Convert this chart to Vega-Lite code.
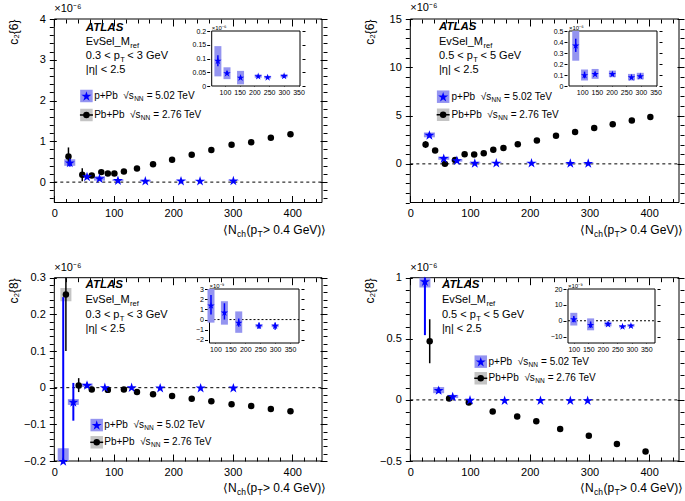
{
"$schema":"https://vega.github.io/schema/vega-lite/v6.json",
"width":685,"height":501,"autosize":"none","padding":0,"background":"white",
"data":{"values":[{}]},
"config":{
 "font":"Liberation Sans",
 "view":{"stroke":null},
 "axis":{"grid":false,"domain":false,"labelFont":"Liberation Sans","labelFontSize":11,"labelColor":"black","tickColor":"black","tickWidth":1,"titleFont":"Liberation Sans","titleFontSize":12,"titleFontWeight":"normal","titleColor":"black","labelFlush":false,"labelOverlap":false,"minExtent":0},
 "text":{"font":"Liberation Sans","fontSize":11,"align":"left","baseline":"middle","color":"black"}
},
"datasets":{
 "m1p":[{"n":26,"c":0.48,"lo":0.38,"hi":0.59,"slo":0.40,"shi":0.56},{"n":55,"c":0.14,"lo":0.12,"hi":0.16,"slo":0.10,"shi":0.18},{"n":76,"c":0.092,"lo":0.072,"hi":0.112,"slo":0.035,"shi":0.145},{"n":107,"c":0.047,"lo":0.04,"hi":0.055,"slo":0.025,"shi":0.068},{"n":153,"c":0.031,"lo":0.025,"hi":0.037,"slo":0.006,"shi":0.055},{"n":213,"c":0.036,"lo":0.032,"hi":0.04,"slo":0.03,"shi":0.042},{"n":245,"c":0.032,"lo":0.028,"hi":0.036,"slo":0.027,"shi":0.037},{"n":301,"c":0.037,"lo":0.033,"hi":0.041,"slo":0.031,"shi":0.043}],
 "m1b":[{"n":23.8,"c":0.63,"lo":0.41,"hi":0.85},{"n":47,"c":0.18,"lo":0.02,"hi":0.34},{"n":63,"c":0.16},{"n":79,"c":0.245},{"n":90,"c":0.21},{"n":101,"c":0.21},{"n":117,"c":0.26},{"n":139,"c":0.335},{"n":166,"c":0.44},{"n":198,"c":0.55},{"n":231,"c":0.67},{"n":264,"c":0.79},{"n":298,"c":0.915},{"n":331,"c":0.98},{"n":364,"c":1.09},{"n":397,"c":1.175}],
 "m2p":[{"n":32,"c":3.0,"lo":2.8,"hi":3.2,"slo":2.75,"shi":3.25},{"n":56,"c":0.59,"lo":0.5,"hi":0.68,"slo":0.42,"shi":0.76},{"n":78,"c":0.37,"lo":0.31,"hi":0.43,"slo":0.23,"shi":0.5},{"n":108,"c":0.1,"lo":0.07,"hi":0.13,"slo":0.05,"shi":0.15},{"n":144,"c":0.11,"lo":0.09,"hi":0.13,"slo":0.065,"shi":0.155},{"n":203,"c":0.11,"lo":0.1,"hi":0.12,"slo":0.08,"shi":0.14},{"n":268,"c":0.08,"lo":0.07,"hi":0.09,"slo":0.05,"shi":0.11},{"n":298,"c":0.09,"lo":0.08,"hi":0.1,"slo":0.06,"shi":0.12}],
 "m2b":[{"n":25.6,"c":2.0,"lo":1.65,"hi":2.35},{"n":41.6,"c":1.38,"lo":1.2,"hi":1.56},{"n":58,"c":0.0,"lo":-0.1,"hi":0.1},{"n":75,"c":0.41},{"n":91,"c":1.0},{"n":107,"c":0.97},{"n":123,"c":1.1},{"n":139,"c":1.45},{"n":156,"c":1.65},{"n":180,"c":2.03},{"n":212,"c":2.41},{"n":244,"c":2.9},{"n":276,"c":3.31},{"n":308,"c":3.72},{"n":339,"c":4.1},{"n":371,"c":4.48},{"n":402,"c":4.86}],
 "m3p":[{"n":15,"c":-0.2,"lo":-0.2,"hi":0.247,"slo":-0.2,"shi":-0.165},{"n":32,"c":-0.039,"lo":-0.09,"hi":0.013,"slo":-0.047,"shi":-0.031},{"n":55,"c":0.007,"lo":0.0,"hi":0.014,"slo":0.002,"shi":0.012},{"n":85,"c":0.001},{"n":130,"c":0.001},{"n":178,"c":0.0},{"n":246,"c":0.0},{"n":301,"c":0.0}],
 "m3b":[{"n":19.5,"c":0.254,"lo":0.1,"hi":0.3,"slo":0.236,"shi":0.272},{"n":41,"c":0.006,"lo":-0.012,"hi":0.026},{"n":63,"c":-0.005},{"n":90,"c":-0.006},{"n":117,"c":-0.005},{"n":139,"c":-0.012},{"n":166,"c":-0.018},{"n":198,"c":-0.023},{"n":231,"c":-0.03},{"n":264,"c":-0.037},{"n":298,"c":-0.045},{"n":331,"c":-0.05},{"n":364,"c":-0.058},{"n":397,"c":-0.064}],
 "m4p":[{"n":24.5,"c":0.97,"lo":0.53,"hi":1.0,"slo":0.92,"shi":1.0},{"n":47.5,"c":0.08,"lo":0.06,"hi":0.1,"slo":0.055,"shi":0.105},{"n":71,"c":0.028,"lo":0.018,"hi":0.038,"slo":0.015,"shi":0.041},{"n":100,"c":0.001},{"n":158,"c":-0.0025},{"n":218,"c":-0.002},{"n":268,"c":-0.0035},{"n":297,"c":-0.003}],
 "m4b":[{"n":32.5,"c":0.48,"lo":0.3,"hi":0.66},{"n":65,"c":0.011,"lo":-0.01,"hi":0.03},{"n":98,"c":-0.022},{"n":138,"c":-0.094},{"n":179,"c":-0.135},{"n":211,"c":-0.174},{"n":251,"c":-0.238},{"n":299,"c":-0.293},{"n":346,"c":-0.36},{"n":394,"c":-0.423}],
 "i3":[{"n":85,"c":1.4,"lo":0.5,"hi":2.4,"slo":-0.3,"shi":3.0},{"n":130,"c":0.7,"lo":0.0,"hi":1.6,"slo":-0.5,"shi":1.8},{"n":178,"c":-0.3,"lo":-0.7,"hi":0.1,"slo":-1.3,"shi":0.8},{"n":246,"c":-0.6,"lo":-0.9,"hi":-0.3,"slo":-0.75,"shi":-0.45},{"n":300,"c":-0.6,"lo":-1.0,"hi":-0.3,"slo":-0.75,"shi":-0.45}],
 "i4":[{"n":100,"c":1,"lo":-1,"hi":3,"slo":-3,"shi":5},{"n":158,"c":-2.5,"lo":-4.5,"hi":-0.5,"slo":-6,"shi":1.5},{"n":218,"c":-2,"lo":-3,"hi":-1,"slo":-3.5,"shi":-0.5},{"n":268,"c":-3.5,"lo":-4.3,"hi":-2.7,"slo":-4.3,"shi":-2.7},{"n":297,"c":-3,"lo":-3.8,"hi":-2.2,"slo":-3.8,"shi":-2.2}]
},
"resolve":{"scale":{"x":"independent","y":"independent"},"axis":{"x":"independent","y":"independent"}},
"layer":[
{"resolve":{"axis":{"x":"independent","y":"independent"}},"layer":[
 {"mark":{"type":"rect","fillOpacity":0,"stroke":"black","strokeWidth":1},"encoding":{"x":{"datum":0,"type":"quantitative","scale":{"domain":[0,450],"range":[49.3,327],"nice":false,"zero":false},"axis":{"orient":"bottom","offset":-298.5,"values":[0,100,200,300,400],"format":"d","tickSize":-7,"labelPadding":12,"title":null}},"x2":{"datum":450},"y":{"datum":-0.5,"type":"quantitative","scale":{"domain":[-0.5,4],"range":[202.5,19],"nice":false,"zero":false},"axis":{"orient":"left","offset":-49.3,"values":[0,1,2,3,4],"format":"d","tickSize":-7,"labelPadding":11,"title":"c₂{6}","titleAnchor":"end","titlePadding":19}},"y2":{"datum":4}}},
 {"mark":{"type":"rule","color":"black","strokeDash":[3,3],"strokeWidth":1},"encoding":{"x":{"datum":0,"type":"quantitative","axis":{"orient":"top","offset":-19,"values":[0,100,200,300,400],"tickSize":-7,"labels":false,"title":null}},"x2":{"datum":450},"y":{"datum":0,"type":"quantitative","axis":{"orient":"right","offset":-358,"values":[0,1,2,3,4],"tickSize":-7,"labels":false,"title":null}}}},
 {"data":{"name":"m1p"},"mark":{"type":"bar","width":11,"color":"#9494f0"},"encoding":{"x":{"field":"n","type":"quantitative","axis":{"orient":"bottom","offset":-298.5,"values":[20,40,60,80,120,140,160,180,220,240,260,280,320,340,360,380,420,440],"tickSize":-4,"labels":false,"title":null}},"y":{"field":"slo","type":"quantitative","axis":{"orient":"left","offset":-49.3,"values":[-0.4,-0.2,0.2,0.4,0.6,0.8,1.2,1.4,1.6,1.8,2.2,2.4,2.6,2.8,3.2,3.4,3.6,3.8],"tickSize":-4,"labels":false,"title":null}},"y2":{"field":"shi"}}},
 {"data":{"name":"m1b"},"mark":{"type":"rule","color":"black","strokeWidth":1.5},"encoding":{"x":{"field":"n","type":"quantitative","axis":{"orient":"top","offset":-19,"values":[20,40,60,80,120,140,160,180,220,240,260,280,320,340,360,380,420,440],"tickSize":-4,"labels":false,"title":null}},"y":{"field":"lo","type":"quantitative","axis":{"orient":"right","offset":-358,"values":[-0.4,-0.2,0.2,0.4,0.6,0.8,1.2,1.4,1.6,1.8,2.2,2.4,2.6,2.8,3.2,3.4,3.6,3.8],"tickSize":-4,"labels":false,"title":null}},"y2":{"field":"hi"}}},
 {"data":{"name":"m1p"},"mark":{"type":"rule","color":"#0000ff","strokeWidth":2},"encoding":{"x":{"field":"n","type":"quantitative","axis":null},"y":{"field":"lo","type":"quantitative","axis":null},"y2":{"field":"hi"}}},
 {"data":{"name":"m1b"},"mark":{"type":"point","shape":"circle","filled":true,"color":"black","size":42,"opacity":1},"encoding":{"x":{"field":"n","type":"quantitative","axis":null},"y":{"field":"c","type":"quantitative","axis":null}}},
 {"data":{"name":"m1p"},"mark":{"type":"point","shape":"M0,-0.905L0.2245,-0.2135L0.9511,-0.2135L0.3633,0.2135L0.5878,0.9045L0,0.4775L-0.5878,0.9045L-0.3633,0.2135L-0.9511,-0.2135L-0.2245,-0.2135Z","filled":true,"color":"#0000ff","size":110,"opacity":1},"encoding":{"x":{"field":"n","type":"quantitative","axis":null},"y":{"field":"c","type":"quantitative","axis":null}}},
 {"mark":{"type":"text","text":"ATLAS","fontWeight":"bold","fontStyle":"italic","fontSize":11.5},"encoding":{"x":{"datum":53,"axis":null},"y":{"datum":3.78,"axis":null}}},
 {"mark":{"type":"text","text":"EvSel_M"},"encoding":{"x":{"datum":53,"axis":null},"y":{"datum":3.436,"axis":null}}},
 {"mark":{"type":"text","text":"ref","fontSize":7.5,"dx":44.5,"dy":4},"encoding":{"x":{"datum":53,"axis":null},"y":{"datum":3.436,"axis":null}}},
 {"mark":{"type":"text","text":"0.3 < p"},"encoding":{"x":{"datum":53,"axis":null},"y":{"datum":3.092,"axis":null}}},
 {"mark":{"type":"text","text":"T","fontSize":7.5,"dx":34.3,"dy":4},"encoding":{"x":{"datum":53,"axis":null},"y":{"datum":3.092,"axis":null}}},
 {"mark":{"type":"text","text":"\u00a0< 3 GeV","dx":41.5},"encoding":{"x":{"datum":53,"axis":null},"y":{"datum":3.092,"axis":null}}},
 {"mark":{"type":"text","text":"|η| < 2.5"},"encoding":{"x":{"datum":53,"axis":null},"y":{"datum":2.749,"axis":null}}},
 {"mark":{"type":"text","text":"×10⁻⁶"},"encoding":{"x":{"datum":0,"axis":null},"y":{"datum":4.245,"axis":null}}},
 {"mark":{"type":"text","text":"⟨N","fontSize":12,"dx":-99},"encoding":{"x":{"datum":450,"axis":null},"y":{"datum":-1.174,"axis":null}}},
 {"mark":{"type":"text","text":"ch","fontSize":8.5,"dx":-85,"dy":4},"encoding":{"x":{"datum":450,"axis":null},"y":{"datum":-1.174,"axis":null}}},
 {"mark":{"type":"text","text":"(p","fontSize":12,"dx":-75.5},"encoding":{"x":{"datum":450,"axis":null},"y":{"datum":-1.174,"axis":null}}},
 {"mark":{"type":"text","text":"T","fontSize":8.5,"dx":-64.5,"dy":4},"encoding":{"x":{"datum":450,"axis":null},"y":{"datum":-1.174,"axis":null}}},
 {"mark":{"type":"text","text":"\u00a0> 0.4 GeV)⟩","fontSize":12,"dx":-59},"encoding":{"x":{"datum":450,"axis":null},"y":{"datum":-1.174,"axis":null}}},
 {"mark":{"type":"point","shape":"square","filled":true,"color":"#9494f0","size":156,"opacity":1},"encoding":{"x":{"datum":54,"axis":null},"y":{"datum":2.112,"axis":null}}},
 {"mark":{"type":"point","shape":"M0,-0.905L0.2245,-0.2135L0.9511,-0.2135L0.3633,0.2135L0.5878,0.9045L0,0.4775L-0.5878,0.9045L-0.3633,0.2135L-0.9511,-0.2135L-0.2245,-0.2135Z","filled":true,"color":"#0000ff","size":110,"opacity":1},"encoding":{"x":{"datum":54,"axis":null},"y":{"datum":2.112,"axis":null}}},
 {"mark":{"type":"text","text":"p+Pb\u00a0 √s","fontSize":10},"encoding":{"x":{"datum":67,"axis":null},"y":{"datum":2.112,"axis":null}}},
 {"mark":{"type":"text","text":"NN","fontSize":6.5,"dx":40,"dy":3},"encoding":{"x":{"datum":67,"axis":null},"y":{"datum":2.112,"axis":null}}},
 {"mark":{"type":"text","text":"\u00a0= 5.02 TeV","fontSize":10,"dx":52.5},"encoding":{"x":{"datum":67,"axis":null},"y":{"datum":2.112,"axis":null}}},
 {"mark":{"type":"point","shape":"square","filled":true,"color":"#c4c4c4","size":156,"opacity":1},"encoding":{"x":{"datum":54,"axis":null},"y":{"datum":1.646,"axis":null}}},
 {"mark":{"type":"point","shape":"stroke","color":"black","size":169,"strokeWidth":1.5,"opacity":1},"encoding":{"x":{"datum":54,"axis":null},"y":{"datum":1.646,"axis":null}}},
 {"mark":{"type":"point","shape":"circle","filled":true,"color":"black","size":42,"opacity":1},"encoding":{"x":{"datum":54,"axis":null},"y":{"datum":1.646,"axis":null}}},
 {"mark":{"type":"text","text":"Pb+Pb\u00a0 √s","fontSize":10},"encoding":{"x":{"datum":67,"axis":null},"y":{"datum":1.646,"axis":null}}},
 {"mark":{"type":"text","text":"NN","fontSize":6.5,"dx":46.7,"dy":3},"encoding":{"x":{"datum":67,"axis":null},"y":{"datum":1.646,"axis":null}}},
 {"mark":{"type":"text","text":"\u00a0= 2.76 TeV","fontSize":10,"dx":59.2},"encoding":{"x":{"datum":67,"axis":null},"y":{"datum":1.646,"axis":null}}}
]},
{"resolve":{"axis":{"x":"independent","y":"independent"}},"layer":[
 {"mark":{"type":"rect","fillOpacity":0,"stroke":"black","strokeWidth":1},"encoding":{"x":{"datum":0,"type":"quantitative","scale":{"domain":[0,450],"range":[405.3,684],"nice":false,"zero":false},"axis":{"orient":"bottom","offset":-298.5,"values":[0,100,200,300,400],"format":"d","tickSize":-7,"labelPadding":12,"title":null}},"x2":{"datum":450},"y":{"datum":-4,"type":"quantitative","scale":{"domain":[-4,15],"range":[202.5,19],"nice":false,"zero":false},"axis":{"orient":"left","offset":-405.3,"values":[0,5,10,15],"format":"d","tickSize":-7,"labelPadding":11,"title":"c₂{6}","titleAnchor":"end","titlePadding":13}},"y2":{"datum":15}}},
 {"mark":{"type":"rule","color":"black","strokeDash":[3,3],"strokeWidth":1},"encoding":{"x":{"datum":0,"type":"quantitative","axis":{"orient":"top","offset":-19,"values":[0,100,200,300,400],"tickSize":-7,"labels":false,"title":null}},"x2":{"datum":450},"y":{"datum":0,"type":"quantitative","axis":{"orient":"right","offset":-1,"values":[0,5,10,15],"tickSize":-7,"labels":false,"title":null}}}},
 {"data":{"name":"m2p"},"mark":{"type":"bar","width":11,"color":"#9494f0"},"encoding":{"x":{"field":"n","type":"quantitative","axis":{"orient":"bottom","offset":-298.5,"values":[20,40,60,80,120,140,160,180,220,240,260,280,320,340,360,380,420,440],"tickSize":-4,"labels":false,"title":null}},"y":{"field":"slo","type":"quantitative","axis":{"orient":"left","offset":-405.3,"values":[-4,-3,-2,-1,1,2,3,4,6,7,8,9,11,12,13,14],"tickSize":-4,"labels":false,"title":null}},"y2":{"field":"shi"}}},
 {"data":{"name":"m2b"},"mark":{"type":"rule","color":"black","strokeWidth":1.5},"encoding":{"x":{"field":"n","type":"quantitative","axis":{"orient":"top","offset":-19,"values":[20,40,60,80,120,140,160,180,220,240,260,280,320,340,360,380,420,440],"tickSize":-4,"labels":false,"title":null}},"y":{"field":"lo","type":"quantitative","axis":{"orient":"right","offset":-1,"values":[-4,-3,-2,-1,1,2,3,4,6,7,8,9,11,12,13,14],"tickSize":-4,"labels":false,"title":null}},"y2":{"field":"hi"}}},
 {"data":{"name":"m2p"},"mark":{"type":"rule","color":"#0000ff","strokeWidth":2},"encoding":{"x":{"field":"n","type":"quantitative","axis":null},"y":{"field":"lo","type":"quantitative","axis":null},"y2":{"field":"hi"}}},
 {"data":{"name":"m2b"},"mark":{"type":"point","shape":"circle","filled":true,"color":"black","size":42,"opacity":1},"encoding":{"x":{"field":"n","type":"quantitative","axis":null},"y":{"field":"c","type":"quantitative","axis":null}}},
 {"data":{"name":"m2p"},"mark":{"type":"point","shape":"M0,-0.905L0.2245,-0.2135L0.9511,-0.2135L0.3633,0.2135L0.5878,0.9045L0,0.4775L-0.5878,0.9045L-0.3633,0.2135L-0.9511,-0.2135L-0.2245,-0.2135Z","filled":true,"color":"#0000ff","size":110,"opacity":1},"encoding":{"x":{"field":"n","type":"quantitative","axis":null},"y":{"field":"c","type":"quantitative","axis":null}}},
 {"mark":{"type":"text","text":"ATLAS","fontWeight":"bold","fontStyle":"italic","fontSize":11.5},"encoding":{"x":{"datum":48,"axis":null},"y":{"datum":14.12,"axis":null}}},
 {"mark":{"type":"text","text":"EvSel_M"},"encoding":{"x":{"datum":48,"axis":null},"y":{"datum":12.66,"axis":null}}},
 {"mark":{"type":"text","text":"ref","fontSize":7.5,"dx":44.5,"dy":4},"encoding":{"x":{"datum":48,"axis":null},"y":{"datum":12.66,"axis":null}}},
 {"mark":{"type":"text","text":"0.5 < p"},"encoding":{"x":{"datum":48,"axis":null},"y":{"datum":11.21,"axis":null}}},
 {"mark":{"type":"text","text":"T","fontSize":7.5,"dx":34.3,"dy":4},"encoding":{"x":{"datum":48,"axis":null},"y":{"datum":11.21,"axis":null}}},
 {"mark":{"type":"text","text":"\u00a0< 5 GeV","dx":41.5},"encoding":{"x":{"datum":48,"axis":null},"y":{"datum":11.21,"axis":null}}},
 {"mark":{"type":"text","text":"|η| < 2.5"},"encoding":{"x":{"datum":48,"axis":null},"y":{"datum":9.757,"axis":null}}},
 {"mark":{"type":"text","text":"×10⁻⁶"},"encoding":{"x":{"datum":0,"axis":null},"y":{"datum":16.09,"axis":null}}},
 {"mark":{"type":"text","text":"⟨N","fontSize":12,"dx":-99},"encoding":{"x":{"datum":450,"axis":null},"y":{"datum":-6.855,"axis":null}}},
 {"mark":{"type":"text","text":"ch","fontSize":8.5,"dx":-85,"dy":4},"encoding":{"x":{"datum":450,"axis":null},"y":{"datum":-6.855,"axis":null}}},
 {"mark":{"type":"text","text":"(p","fontSize":12,"dx":-75.5},"encoding":{"x":{"datum":450,"axis":null},"y":{"datum":-6.855,"axis":null}}},
 {"mark":{"type":"text","text":"T","fontSize":8.5,"dx":-64.5,"dy":4},"encoding":{"x":{"datum":450,"axis":null},"y":{"datum":-6.855,"axis":null}}},
 {"mark":{"type":"text","text":"\u00a0> 0.4 GeV)⟩","fontSize":12,"dx":-59},"encoding":{"x":{"datum":450,"axis":null},"y":{"datum":-6.855,"axis":null}}},
 {"mark":{"type":"point","shape":"square","filled":true,"color":"#9494f0","size":156,"opacity":1},"encoding":{"x":{"datum":55,"axis":null},"y":{"datum":6.954,"axis":null}}},
 {"mark":{"type":"point","shape":"M0,-0.905L0.2245,-0.2135L0.9511,-0.2135L0.3633,0.2135L0.5878,0.9045L0,0.4775L-0.5878,0.9045L-0.3633,0.2135L-0.9511,-0.2135L-0.2245,-0.2135Z","filled":true,"color":"#0000ff","size":110,"opacity":1},"encoding":{"x":{"datum":55,"axis":null},"y":{"datum":6.954,"axis":null}}},
 {"mark":{"type":"text","text":"p+Pb\u00a0 √s","fontSize":10},"encoding":{"x":{"datum":69,"axis":null},"y":{"datum":6.954,"axis":null}}},
 {"mark":{"type":"text","text":"NN","fontSize":6.5,"dx":40,"dy":3},"encoding":{"x":{"datum":69,"axis":null},"y":{"datum":6.954,"axis":null}}},
 {"mark":{"type":"text","text":"\u00a0= 5.02 TeV","fontSize":10,"dx":52.5},"encoding":{"x":{"datum":69,"axis":null},"y":{"datum":6.954,"axis":null}}},
 {"mark":{"type":"point","shape":"square","filled":true,"color":"#c4c4c4","size":156,"opacity":1},"encoding":{"x":{"datum":55,"axis":null},"y":{"datum":5.085,"axis":null}}},
 {"mark":{"type":"point","shape":"stroke","color":"black","size":169,"strokeWidth":1.5,"opacity":1},"encoding":{"x":{"datum":55,"axis":null},"y":{"datum":5.085,"axis":null}}},
 {"mark":{"type":"point","shape":"circle","filled":true,"color":"black","size":42,"opacity":1},"encoding":{"x":{"datum":55,"axis":null},"y":{"datum":5.085,"axis":null}}},
 {"mark":{"type":"text","text":"Pb+Pb\u00a0 √s","fontSize":10},"encoding":{"x":{"datum":69,"axis":null},"y":{"datum":5.085,"axis":null}}},
 {"mark":{"type":"text","text":"NN","fontSize":6.5,"dx":46.7,"dy":3},"encoding":{"x":{"datum":69,"axis":null},"y":{"datum":5.085,"axis":null}}},
 {"mark":{"type":"text","text":"\u00a0= 2.76 TeV","fontSize":10,"dx":59.2},"encoding":{"x":{"datum":69,"axis":null},"y":{"datum":5.085,"axis":null}}}
]},
{"resolve":{"axis":{"x":"independent","y":"independent"}},"layer":[
 {"mark":{"type":"rect","fillOpacity":0,"stroke":"black","strokeWidth":1},"encoding":{"x":{"datum":0,"type":"quantitative","scale":{"domain":[0,450],"range":[49.3,327],"nice":false,"zero":false},"axis":{"orient":"bottom","offset":-40,"values":[0,100,200,300,400],"format":"d","tickSize":-7,"labelPadding":12,"title":null}},"x2":{"datum":450},"y":{"datum":-0.2,"type":"quantitative","scale":{"domain":[-0.2,0.3],"range":[461,277.7],"nice":false,"zero":false},"axis":{"orient":"left","offset":-49.3,"values":[-0.2,-0.1,0,0.1,0.2,0.3],"format":"~g","tickSize":-7,"labelPadding":11,"title":"c₂{8}","titleAnchor":"end","titlePadding":3}},"y2":{"datum":0.3}}},
 {"mark":{"type":"rule","color":"black","strokeDash":[3,3],"strokeWidth":1},"encoding":{"x":{"datum":0,"type":"quantitative","axis":{"orient":"top","offset":-277.7,"values":[0,100,200,300,400],"tickSize":-7,"labels":false,"title":null}},"x2":{"datum":450},"y":{"datum":0,"type":"quantitative","axis":{"orient":"right","offset":-358,"values":[-0.2,-0.1,0,0.1,0.2,0.3],"tickSize":-7,"labels":false,"title":null}}}},
 {"data":{"name":"m3p"},"mark":{"type":"bar","width":11,"color":"#9494f0"},"encoding":{"x":{"field":"n","type":"quantitative","axis":{"orient":"bottom","offset":-40,"values":[20,40,60,80,120,140,160,180,220,240,260,280,320,340,360,380,420,440],"tickSize":-4,"labels":false,"title":null}},"y":{"field":"slo","type":"quantitative","axis":{"orient":"left","offset":-49.3,"values":[-0.18,-0.16,-0.14,-0.12,-0.08,-0.06,-0.04,-0.02,0.02,0.04,0.06,0.08,0.12,0.14,0.16,0.18,0.22,0.24,0.26,0.28],"tickSize":-4,"labels":false,"title":null}},"y2":{"field":"shi"}}},
 {"data":{"name":"m3b"},"mark":{"type":"bar","width":11,"color":"#c4c4c4"},"encoding":{"x":{"field":"n","type":"quantitative","axis":null},"y":{"field":"slo","type":"quantitative","axis":null},"y2":{"field":"shi"}}},
 {"data":{"name":"m3b"},"mark":{"type":"rule","color":"black","strokeWidth":1.5},"encoding":{"x":{"field":"n","type":"quantitative","axis":{"orient":"top","offset":-277.7,"values":[20,40,60,80,120,140,160,180,220,240,260,280,320,340,360,380,420,440],"tickSize":-4,"labels":false,"title":null}},"y":{"field":"lo","type":"quantitative","axis":{"orient":"right","offset":-358,"values":[-0.18,-0.16,-0.14,-0.12,-0.08,-0.06,-0.04,-0.02,0.02,0.04,0.06,0.08,0.12,0.14,0.16,0.18,0.22,0.24,0.26,0.28],"tickSize":-4,"labels":false,"title":null}},"y2":{"field":"hi"}}},
 {"data":{"name":"m3p"},"mark":{"type":"rule","color":"#0000ff","strokeWidth":2},"encoding":{"x":{"field":"n","type":"quantitative","axis":null},"y":{"field":"lo","type":"quantitative","axis":null},"y2":{"field":"hi"}}},
 {"data":{"name":"m3b"},"mark":{"type":"point","shape":"circle","filled":true,"color":"black","size":42,"opacity":1},"encoding":{"x":{"field":"n","type":"quantitative","axis":null},"y":{"field":"c","type":"quantitative","axis":null}}},
 {"data":{"name":"m3p"},"mark":{"type":"point","shape":"M0,-0.905L0.2245,-0.2135L0.9511,-0.2135L0.3633,0.2135L0.5878,0.9045L0,0.4775L-0.5878,0.9045L-0.3633,0.2135L-0.9511,-0.2135L-0.2245,-0.2135Z","filled":true,"color":"#0000ff","size":110,"opacity":1},"encoding":{"x":{"field":"n","type":"quantitative","axis":null},"y":{"field":"c","type":"quantitative","axis":null}}},
 {"mark":{"type":"text","text":"ATLAS","fontWeight":"bold","fontStyle":"italic","fontSize":11.5},"encoding":{"x":{"datum":52.5,"axis":null},"y":{"datum":0.280,"axis":null}}},
 {"mark":{"type":"text","text":"EvSel_M"},"encoding":{"x":{"datum":52.5,"axis":null},"y":{"datum":0.239,"axis":null}}},
 {"mark":{"type":"text","text":"ref","fontSize":7.5,"dx":44.5,"dy":4},"encoding":{"x":{"datum":52.5,"axis":null},"y":{"datum":0.239,"axis":null}}},
 {"mark":{"type":"text","text":"0.3 < p"},"encoding":{"x":{"datum":52.5,"axis":null},"y":{"datum":0.198,"axis":null}}},
 {"mark":{"type":"text","text":"T","fontSize":7.5,"dx":34.3,"dy":4},"encoding":{"x":{"datum":52.5,"axis":null},"y":{"datum":0.198,"axis":null}}},
 {"mark":{"type":"text","text":"\u00a0< 3 GeV","dx":41.5},"encoding":{"x":{"datum":52.5,"axis":null},"y":{"datum":0.198,"axis":null}}},
 {"mark":{"type":"text","text":"|η| < 2.5"},"encoding":{"x":{"datum":52.5,"axis":null},"y":{"datum":0.159,"axis":null}}},
 {"mark":{"type":"text","text":"×10⁻⁶"},"encoding":{"x":{"datum":0,"axis":null},"y":{"datum":0.326,"axis":null}}},
 {"mark":{"type":"text","text":"⟨N","fontSize":12,"dx":-99},"encoding":{"x":{"datum":450,"axis":null},"y":{"datum":-0.2737,"axis":null}}},
 {"mark":{"type":"text","text":"ch","fontSize":8.5,"dx":-85,"dy":4},"encoding":{"x":{"datum":450,"axis":null},"y":{"datum":-0.2737,"axis":null}}},
 {"mark":{"type":"text","text":"(p","fontSize":12,"dx":-75.5},"encoding":{"x":{"datum":450,"axis":null},"y":{"datum":-0.2737,"axis":null}}},
 {"mark":{"type":"text","text":"T","fontSize":8.5,"dx":-64.5,"dy":4},"encoding":{"x":{"datum":450,"axis":null},"y":{"datum":-0.2737,"axis":null}}},
 {"mark":{"type":"text","text":"\u00a0> 0.4 GeV)⟩","fontSize":12,"dx":-59},"encoding":{"x":{"datum":450,"axis":null},"y":{"datum":-0.2737,"axis":null}}},
 {"mark":{"type":"point","shape":"square","filled":true,"color":"#9494f0","size":156,"opacity":1},"encoding":{"x":{"datum":71.3,"axis":null},"y":{"datum":-0.102,"axis":null}}},
 {"mark":{"type":"point","shape":"M0,-0.905L0.2245,-0.2135L0.9511,-0.2135L0.3633,0.2135L0.5878,0.9045L0,0.4775L-0.5878,0.9045L-0.3633,0.2135L-0.9511,-0.2135L-0.2245,-0.2135Z","filled":true,"color":"#0000ff","size":110,"opacity":1},"encoding":{"x":{"datum":71.3,"axis":null},"y":{"datum":-0.102,"axis":null}}},
 {"mark":{"type":"text","text":"p+Pb\u00a0 √s","fontSize":10},"encoding":{"x":{"datum":84,"axis":null},"y":{"datum":-0.102,"axis":null}}},
 {"mark":{"type":"text","text":"NN","fontSize":6.5,"dx":40,"dy":3},"encoding":{"x":{"datum":84,"axis":null},"y":{"datum":-0.102,"axis":null}}},
 {"mark":{"type":"text","text":"\u00a0= 5.02 TeV","fontSize":10,"dx":52.5},"encoding":{"x":{"datum":84,"axis":null},"y":{"datum":-0.102,"axis":null}}},
 {"mark":{"type":"point","shape":"square","filled":true,"color":"#c4c4c4","size":156,"opacity":1},"encoding":{"x":{"datum":71.3,"axis":null},"y":{"datum":-0.149,"axis":null}}},
 {"mark":{"type":"point","shape":"stroke","color":"black","size":169,"strokeWidth":1.5,"opacity":1},"encoding":{"x":{"datum":71.3,"axis":null},"y":{"datum":-0.149,"axis":null}}},
 {"mark":{"type":"point","shape":"circle","filled":true,"color":"black","size":42,"opacity":1},"encoding":{"x":{"datum":71.3,"axis":null},"y":{"datum":-0.149,"axis":null}}},
 {"mark":{"type":"text","text":"Pb+Pb\u00a0 √s","fontSize":10},"encoding":{"x":{"datum":84,"axis":null},"y":{"datum":-0.149,"axis":null}}},
 {"mark":{"type":"text","text":"NN","fontSize":6.5,"dx":46.7,"dy":3},"encoding":{"x":{"datum":84,"axis":null},"y":{"datum":-0.149,"axis":null}}},
 {"mark":{"type":"text","text":"\u00a0= 2.76 TeV","fontSize":10,"dx":59.2},"encoding":{"x":{"datum":84,"axis":null},"y":{"datum":-0.149,"axis":null}}}
]},
{"resolve":{"axis":{"x":"independent","y":"independent"}},"layer":[
 {"mark":{"type":"rect","fillOpacity":0,"stroke":"black","strokeWidth":1},"encoding":{"x":{"datum":0,"type":"quantitative","scale":{"domain":[0,450],"range":[405.3,684],"nice":false,"zero":false},"axis":{"orient":"bottom","offset":-40,"values":[0,100,200,300,400],"format":"d","tickSize":-7,"labelPadding":12,"title":null}},"x2":{"datum":450},"y":{"datum":-0.5,"type":"quantitative","scale":{"domain":[-0.5,1],"range":[461,277.7],"nice":false,"zero":false},"axis":{"orient":"left","offset":-405.3,"values":[-0.5,0,0.5,1],"format":"~g","tickSize":-7,"labelPadding":11,"title":"c₂{8}","titleAnchor":"end","titlePadding":3}},"y2":{"datum":1}}},
 {"mark":{"type":"rule","color":"black","strokeDash":[3,3],"strokeWidth":1},"encoding":{"x":{"datum":0,"type":"quantitative","axis":{"orient":"top","offset":-277.7,"values":[0,100,200,300,400],"tickSize":-7,"labels":false,"title":null}},"x2":{"datum":450},"y":{"datum":0,"type":"quantitative","axis":{"orient":"right","offset":-1,"values":[-0.5,0,0.5,1],"tickSize":-7,"labels":false,"title":null}}}},
 {"data":{"name":"m4p"},"mark":{"type":"bar","width":11,"color":"#9494f0"},"encoding":{"x":{"field":"n","type":"quantitative","axis":{"orient":"bottom","offset":-40,"values":[20,40,60,80,120,140,160,180,220,240,260,280,320,340,360,380,420,440],"tickSize":-4,"labels":false,"title":null}},"y":{"field":"slo","type":"quantitative","axis":{"orient":"left","offset":-405.3,"values":[-0.4,-0.3,-0.2,-0.1,0.1,0.2,0.3,0.4,0.6,0.7,0.8,0.9],"tickSize":-4,"labels":false,"title":null}},"y2":{"field":"shi"}}},
 {"data":{"name":"m4b"},"mark":{"type":"rule","color":"black","strokeWidth":1.5},"encoding":{"x":{"field":"n","type":"quantitative","axis":{"orient":"top","offset":-277.7,"values":[20,40,60,80,120,140,160,180,220,240,260,280,320,340,360,380,420,440],"tickSize":-4,"labels":false,"title":null}},"y":{"field":"lo","type":"quantitative","axis":{"orient":"right","offset":-1,"values":[-0.4,-0.3,-0.2,-0.1,0.1,0.2,0.3,0.4,0.6,0.7,0.8,0.9],"tickSize":-4,"labels":false,"title":null}},"y2":{"field":"hi"}}},
 {"data":{"name":"m4p"},"mark":{"type":"rule","color":"#0000ff","strokeWidth":2},"encoding":{"x":{"field":"n","type":"quantitative","axis":null},"y":{"field":"lo","type":"quantitative","axis":null},"y2":{"field":"hi"}}},
 {"data":{"name":"m4b"},"mark":{"type":"point","shape":"circle","filled":true,"color":"black","size":42,"opacity":1},"encoding":{"x":{"field":"n","type":"quantitative","axis":null},"y":{"field":"c","type":"quantitative","axis":null}}},
 {"data":{"name":"m4p"},"mark":{"type":"point","shape":"M0,-0.905L0.2245,-0.2135L0.9511,-0.2135L0.3633,0.2135L0.5878,0.9045L0,0.4775L-0.5878,0.9045L-0.3633,0.2135L-0.9511,-0.2135L-0.2245,-0.2135Z","filled":true,"color":"#0000ff","size":110,"opacity":1},"encoding":{"x":{"field":"n","type":"quantitative","axis":null},"y":{"field":"c","type":"quantitative","axis":null}}},
 {"mark":{"type":"text","text":"ATLAS","fontWeight":"bold","fontStyle":"italic","fontSize":11.5},"encoding":{"x":{"datum":53,"axis":null},"y":{"datum":0.940,"axis":null}}},
 {"mark":{"type":"text","text":"EvSel_M"},"encoding":{"x":{"datum":53,"axis":null},"y":{"datum":0.818,"axis":null}}},
 {"mark":{"type":"text","text":"ref","fontSize":7.5,"dx":44.5,"dy":4},"encoding":{"x":{"datum":53,"axis":null},"y":{"datum":0.818,"axis":null}}},
 {"mark":{"type":"text","text":"0.5 < p"},"encoding":{"x":{"datum":53,"axis":null},"y":{"datum":0.695,"axis":null}}},
 {"mark":{"type":"text","text":"T","fontSize":7.5,"dx":34.3,"dy":4},"encoding":{"x":{"datum":53,"axis":null},"y":{"datum":0.695,"axis":null}}},
 {"mark":{"type":"text","text":"\u00a0< 5 GeV","dx":41.5},"encoding":{"x":{"datum":53,"axis":null},"y":{"datum":0.695,"axis":null}}},
 {"mark":{"type":"text","text":"|η| < 2.5"},"encoding":{"x":{"datum":53,"axis":null},"y":{"datum":0.578,"axis":null}}},
 {"mark":{"type":"text","text":"×10⁻⁶"},"encoding":{"x":{"datum":0,"axis":null},"y":{"datum":1.079,"axis":null}}},
 {"mark":{"type":"text","text":"⟨N","fontSize":12,"dx":-99},"encoding":{"x":{"datum":450,"axis":null},"y":{"datum":-0.721,"axis":null}}},
 {"mark":{"type":"text","text":"ch","fontSize":8.5,"dx":-85,"dy":4},"encoding":{"x":{"datum":450,"axis":null},"y":{"datum":-0.721,"axis":null}}},
 {"mark":{"type":"text","text":"(p","fontSize":12,"dx":-75.5},"encoding":{"x":{"datum":450,"axis":null},"y":{"datum":-0.721,"axis":null}}},
 {"mark":{"type":"text","text":"T","fontSize":8.5,"dx":-64.5,"dy":4},"encoding":{"x":{"datum":450,"axis":null},"y":{"datum":-0.721,"axis":null}}},
 {"mark":{"type":"text","text":"\u00a0> 0.4 GeV)⟩","fontSize":12,"dx":-59},"encoding":{"x":{"datum":450,"axis":null},"y":{"datum":-0.721,"axis":null}}},
 {"mark":{"type":"point","shape":"square","filled":true,"color":"#9494f0","size":156,"opacity":1},"encoding":{"x":{"datum":118,"axis":null},"y":{"datum":0.313,"axis":null}}},
 {"mark":{"type":"point","shape":"M0,-0.905L0.2245,-0.2135L0.9511,-0.2135L0.3633,0.2135L0.5878,0.9045L0,0.4775L-0.5878,0.9045L-0.3633,0.2135L-0.9511,-0.2135L-0.2245,-0.2135Z","filled":true,"color":"#0000ff","size":110,"opacity":1},"encoding":{"x":{"datum":118,"axis":null},"y":{"datum":0.313,"axis":null}}},
 {"mark":{"type":"text","text":"p+Pb\u00a0 √s","fontSize":10},"encoding":{"x":{"datum":131,"axis":null},"y":{"datum":0.313,"axis":null}}},
 {"mark":{"type":"text","text":"NN","fontSize":6.5,"dx":40,"dy":3},"encoding":{"x":{"datum":131,"axis":null},"y":{"datum":0.313,"axis":null}}},
 {"mark":{"type":"text","text":"\u00a0= 5.02 TeV","fontSize":10,"dx":52.5},"encoding":{"x":{"datum":131,"axis":null},"y":{"datum":0.313,"axis":null}}},
 {"mark":{"type":"point","shape":"square","filled":true,"color":"#c4c4c4","size":156,"opacity":1},"encoding":{"x":{"datum":118,"axis":null},"y":{"datum":0.177,"axis":null}}},
 {"mark":{"type":"point","shape":"stroke","color":"black","size":169,"strokeWidth":1.5,"opacity":1},"encoding":{"x":{"datum":118,"axis":null},"y":{"datum":0.177,"axis":null}}},
 {"mark":{"type":"point","shape":"circle","filled":true,"color":"black","size":42,"opacity":1},"encoding":{"x":{"datum":118,"axis":null},"y":{"datum":0.177,"axis":null}}},
 {"mark":{"type":"text","text":"Pb+Pb\u00a0 √s","fontSize":10},"encoding":{"x":{"datum":131,"axis":null},"y":{"datum":0.177,"axis":null}}},
 {"mark":{"type":"text","text":"NN","fontSize":6.5,"dx":46.7,"dy":3},"encoding":{"x":{"datum":131,"axis":null},"y":{"datum":0.177,"axis":null}}},
 {"mark":{"type":"text","text":"\u00a0= 2.76 TeV","fontSize":10,"dx":59.2},"encoding":{"x":{"datum":131,"axis":null},"y":{"datum":0.177,"axis":null}}}
]},
{"resolve":{"axis":{"x":"independent","y":"independent"}},"layer":[
 {"mark":{"type":"rect","fill":"white","stroke":"black","strokeWidth":1},"encoding":{"x":{"datum":55,"type":"quantitative","scale":{"domain":[55,355],"range":[206.7,305],"nice":false,"zero":false},"axis":{"orient":"bottom","offset":-415,"values":[100,150,200,250,300,350],"format":"d","tickSize":-3,"labelPadding":5,"labelFontSize":7,"title":null}},"x2":{"datum":355},"y":{"datum":0,"type":"quantitative","scale":{"domain":[0,0.2],"range":[86,31],"nice":false,"zero":false},"axis":{"orient":"left","offset":-206.7,"values":[0,0.05,0.1,0.15,0.2],"format":"~g","tickSize":-3,"labelPadding":4,"labelFontSize":7,"title":null}},"y2":{"datum":0.2}}},
 {"data":{"name":"m1p"},"transform":[{"filter":"datum.n >= 60"}],"mark":{"type":"bar","width":7,"color":"#9494f0"},"encoding":{"x":{"field":"n","type":"quantitative","axis":{"orient":"top","offset":-31,"values":[100,150,200,250,300,350],"tickSize":-3,"labels":false,"title":null}},"y":{"field":"slo","type":"quantitative","axis":{"orient":"right","offset":-380,"values":[0,0.05,0.1,0.15,0.2],"tickSize":-3,"labels":false,"title":null}},"y2":{"field":"shi"}}},
 {"data":{"name":"m1p"},"transform":[{"filter":"datum.n >= 60"}],"mark":{"type":"rule","color":"#0000ff","strokeWidth":1.5},"encoding":{"x":{"field":"n","type":"quantitative","axis":null},"y":{"field":"lo","type":"quantitative","axis":null},"y2":{"field":"hi"}}},
 {"data":{"name":"m1p"},"transform":[{"filter":"datum.n >= 60"}],"mark":{"type":"point","shape":"M0,-0.905L0.2245,-0.2135L0.9511,-0.2135L0.3633,0.2135L0.5878,0.9045L0,0.4775L-0.5878,0.9045L-0.3633,0.2135L-0.9511,-0.2135L-0.2245,-0.2135Z","filled":true,"color":"#0000ff","size":60,"opacity":1},"encoding":{"x":{"field":"n","type":"quantitative","axis":null},"y":{"field":"c","type":"quantitative","axis":null}}},
 {"mark":{"type":"text","text":"×10⁻⁶","fontSize":6,"baseline":"bottom"},"encoding":{"x":{"datum":55,"axis":null},"y":{"datum":0.2,"axis":null}}}
]},
{"resolve":{"axis":{"x":"independent","y":"independent"}},"layer":[
 {"mark":{"type":"rect","fill":"white","stroke":"black","strokeWidth":1},"encoding":{"x":{"datum":55,"type":"quantitative","scale":{"domain":[55,355],"range":[564,662],"nice":false,"zero":false},"axis":{"orient":"bottom","offset":-415,"values":[100,150,200,250,300,350],"format":"d","tickSize":-3,"labelPadding":5,"labelFontSize":7,"title":null}},"x2":{"datum":355},"y":{"datum":0,"type":"quantitative","scale":{"domain":[0,0.5],"range":[86,31],"nice":false,"zero":false},"axis":{"orient":"left","offset":-564,"values":[0,0.1,0.2,0.3,0.4,0.5],"format":"~g","tickSize":-3,"labelPadding":4,"labelFontSize":7,"title":null}},"y2":{"datum":0.5}}},
 {"data":{"name":"m2p"},"transform":[{"filter":"datum.n >= 70"}],"mark":{"type":"bar","width":7,"color":"#9494f0"},"encoding":{"x":{"field":"n","type":"quantitative","axis":{"orient":"top","offset":-31,"values":[100,150,200,250,300,350],"tickSize":-3,"labels":false,"title":null}},"y":{"field":"slo","type":"quantitative","axis":{"orient":"right","offset":-23,"values":[0,0.1,0.2,0.3,0.4,0.5],"tickSize":-3,"labels":false,"title":null}},"y2":{"field":"shi"}}},
 {"data":{"name":"m2p"},"transform":[{"filter":"datum.n >= 70"}],"mark":{"type":"rule","color":"#0000ff","strokeWidth":1.5},"encoding":{"x":{"field":"n","type":"quantitative","axis":null},"y":{"field":"lo","type":"quantitative","axis":null},"y2":{"field":"hi"}}},
 {"data":{"name":"m2p"},"transform":[{"filter":"datum.n >= 70"}],"mark":{"type":"point","shape":"M0,-0.905L0.2245,-0.2135L0.9511,-0.2135L0.3633,0.2135L0.5878,0.9045L0,0.4775L-0.5878,0.9045L-0.3633,0.2135L-0.9511,-0.2135L-0.2245,-0.2135Z","filled":true,"color":"#0000ff","size":60,"opacity":1},"encoding":{"x":{"field":"n","type":"quantitative","axis":null},"y":{"field":"c","type":"quantitative","axis":null}}},
 {"mark":{"type":"text","text":"×10⁻⁶","fontSize":6,"baseline":"bottom"},"encoding":{"x":{"datum":55,"axis":null},"y":{"datum":0.5,"axis":null}}}
]},
{"resolve":{"axis":{"x":"independent","y":"independent"}},"layer":[
 {"mark":{"type":"rect","fill":"white","stroke":"black","strokeWidth":1},"encoding":{"x":{"datum":80,"type":"quantitative","scale":{"domain":[80,380],"range":[204.5,304],"nice":false,"zero":false},"axis":{"orient":"bottom","offset":-158,"values":[100,150,200,250,300,350],"format":"d","tickSize":-3,"labelPadding":5,"labelFontSize":7,"title":null}},"x2":{"datum":380},"y":{"datum":-2.3,"type":"quantitative","scale":{"domain":[-2.3,3],"range":[343,289],"nice":false,"zero":false},"axis":{"orient":"left","offset":-204.5,"values":[-2,-1,0,1,2,3],"format":"d","tickSize":-3,"labelPadding":4,"labelFontSize":7,"title":null}},"y2":{"datum":3}}},
 {"mark":{"type":"rule","color":"black","strokeDash":[2,2],"strokeWidth":1},"encoding":{"x":{"datum":80,"type":"quantitative","axis":{"orient":"top","offset":-289,"values":[100,150,200,250,300,350],"tickSize":-3,"labels":false,"title":null}},"x2":{"datum":380},"y":{"datum":0,"type":"quantitative","axis":{"orient":"right","offset":-381,"values":[-2,-1,0,1,2,3],"tickSize":-3,"labels":false,"title":null}}}},
 {"data":{"name":"i3"},"mark":{"type":"bar","width":7,"color":"#9494f0"},"encoding":{"x":{"field":"n","type":"quantitative","axis":null},"y":{"field":"slo","type":"quantitative","axis":null},"y2":{"field":"shi"}}},
 {"data":{"name":"i3"},"mark":{"type":"rule","color":"#0000ff","strokeWidth":1.5},"encoding":{"x":{"field":"n","type":"quantitative","axis":null},"y":{"field":"lo","type":"quantitative","axis":null},"y2":{"field":"hi"}}},
 {"data":{"name":"i3"},"mark":{"type":"point","shape":"M0,-0.905L0.2245,-0.2135L0.9511,-0.2135L0.3633,0.2135L0.5878,0.9045L0,0.4775L-0.5878,0.9045L-0.3633,0.2135L-0.9511,-0.2135L-0.2245,-0.2135Z","filled":true,"color":"#0000ff","size":60,"opacity":1},"encoding":{"x":{"field":"n","type":"quantitative","axis":null},"y":{"field":"c","type":"quantitative","axis":null}}},
 {"mark":{"type":"text","text":"×10⁻⁹","fontSize":6,"baseline":"bottom"},"encoding":{"x":{"datum":80,"axis":null},"y":{"datum":3,"axis":null}}}
]},
{"resolve":{"axis":{"x":"independent","y":"independent"}},"layer":[
 {"mark":{"type":"rect","fill":"white","stroke":"black","strokeWidth":1},"encoding":{"x":{"datum":80,"type":"quantitative","scale":{"domain":[80,380],"range":[563,660],"nice":false,"zero":false},"axis":{"orient":"bottom","offset":-158,"values":[100,150,200,250,300,350],"format":"d","tickSize":-3,"labelPadding":5,"labelFontSize":7,"title":null}},"x2":{"datum":380},"y":{"datum":-14,"type":"quantitative","scale":{"domain":[-14,20],"range":[343,289],"nice":false,"zero":false},"axis":{"orient":"left","offset":-563,"values":[-10,0,10,20],"format":"d","tickSize":-3,"labelPadding":4,"labelFontSize":7,"title":null}},"y2":{"datum":20}}},
 {"mark":{"type":"rule","color":"black","strokeDash":[2,2],"strokeWidth":1},"encoding":{"x":{"datum":80,"type":"quantitative","axis":{"orient":"top","offset":-289,"values":[100,150,200,250,300,350],"tickSize":-3,"labels":false,"title":null}},"x2":{"datum":380},"y":{"datum":0,"type":"quantitative","axis":{"orient":"right","offset":-25,"values":[-10,0,10,20],"tickSize":-3,"labels":false,"title":null}}}},
 {"data":{"name":"i4"},"mark":{"type":"bar","width":7,"color":"#9494f0"},"encoding":{"x":{"field":"n","type":"quantitative","axis":null},"y":{"field":"slo","type":"quantitative","axis":null},"y2":{"field":"shi"}}},
 {"data":{"name":"i4"},"mark":{"type":"rule","color":"#0000ff","strokeWidth":1.5},"encoding":{"x":{"field":"n","type":"quantitative","axis":null},"y":{"field":"lo","type":"quantitative","axis":null},"y2":{"field":"hi"}}},
 {"data":{"name":"i4"},"mark":{"type":"point","shape":"M0,-0.905L0.2245,-0.2135L0.9511,-0.2135L0.3633,0.2135L0.5878,0.9045L0,0.4775L-0.5878,0.9045L-0.3633,0.2135L-0.9511,-0.2135L-0.2245,-0.2135Z","filled":true,"color":"#0000ff","size":60,"opacity":1},"encoding":{"x":{"field":"n","type":"quantitative","axis":null},"y":{"field":"c","type":"quantitative","axis":null}}},
 {"mark":{"type":"text","text":"×10⁻⁹","fontSize":6,"baseline":"bottom"},"encoding":{"x":{"datum":80,"axis":null},"y":{"datum":20,"axis":null}}}
]}
]
}
